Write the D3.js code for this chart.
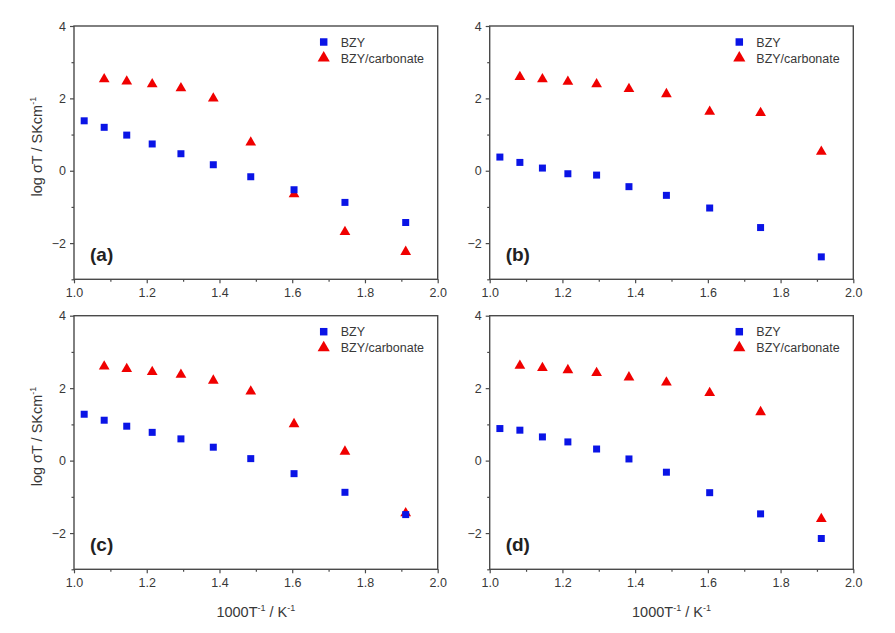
<!DOCTYPE html>
<html>
<head>
<meta charset="utf-8">
<script src="https://cdn.jsdelivr.net/npm/d3@7"></script>
<style>
  html, body { margin: 0; padding: 0; background: #fff; }
  svg { display: block; }
  text { font-family: Arial, "Liberation Sans", sans-serif; }
</style>
</head>
<body>
<svg id="chart" width="895" height="633"></svg>
<script>
// ---- data ----
const xBZY  = [1.028, 1.083, 1.145, 1.215, 1.294, 1.383, 1.486, 1.605, 1.745, 1.912];
const xCarb = [1.083, 1.145, 1.215, 1.294, 1.383, 1.486, 1.605, 1.745, 1.912];

const bzyA  = [1.38, 1.20, 0.985, 0.74, 0.47, 0.166, -0.166, -0.525, -0.875, -1.43];
const carbA = [2.53, 2.47, 2.39, 2.28, 2.00, 0.78, -0.645, -1.69, -2.24];
const bzyB  = [0.378, 0.23, 0.074, -0.083, -0.12, -0.44, -0.68, -1.03, -1.57, -2.38];
const carbB = [2.59, 2.53, 2.46, 2.39, 2.26, 2.12, 1.63, 1.60, 0.525];
const bzyC  = [1.28, 1.115, 0.95, 0.78, 0.60, 0.37, 0.055, -0.36, -0.875, -1.49];
const carbC = [2.60, 2.53, 2.45, 2.37, 2.21, 1.91, 1.01, 0.25, -1.45];
const bzyD  = [0.885, 0.84, 0.654, 0.516, 0.32, 0.046, -0.32, -0.885, -1.47, -2.15];
const carbD = [2.62, 2.56, 2.50, 2.42, 2.30, 2.16, 1.87, 1.34, -1.61];

const panelLabels = ["(a)", "(b)", "(c)", "(d)"];
const seriesNames = ["BZY", "BZY/carbonate"];
const xTicks = [1.0, 1.2, 1.4, 1.6, 1.8, 2.0];
const xMinorTicks = [1.1, 1.3, 1.5, 1.7, 1.9];
const yTicks = [-2, 0, 2, 4];
const yMinorTicks = [-3, -1, 1, 3];

// ---- layout ----
const panels = [
  {label: panelLabels[0], bzy: bzyA, carb: carbA, left: 74,    right: 437.7, top: 26,    bottom: 279.3, yTitle: true,  xTitle: false},
  {label: panelLabels[1], bzy: bzyB, carb: carbB, left: 489.7, right: 853.3, top: 26,    bottom: 279.3, yTitle: false, xTitle: false},
  {label: panelLabels[2], bzy: bzyC, carb: carbC, left: 74,    right: 437.7, top: 315.7, bottom: 569.3, yTitle: true,  xTitle: true},
  {label: panelLabels[3], bzy: bzyD, carb: carbD, left: 489.7, right: 853.3, top: 315.7, bottom: 569.3, yTitle: false, xTitle: true}
];

const blue = "#0a14e6";
const red = "#f00000";
const axisColor = "#4a4a4a";
const textColor = "#383838";

const svg = d3.select("#chart");
svg.append("rect").attr("width", 895).attr("height", 633).attr("fill", "#fff");

const squareSym = d3.symbol().type(d3.symbolSquare).size(49);
const triSym = d3.symbol().type(d3.symbolTriangle).size(50);
const squareLeg = d3.symbol().type(d3.symbolSquare).size(56);
const triLeg = d3.symbol().type(d3.symbolTriangle).size(64);

panels.forEach(p => {
  const x = d3.scaleLinear().domain([1.0, 2.0]).range([p.left, p.right]);
  const y = d3.scaleLinear().domain([-3, 4]).range([p.bottom, p.top]);
  const g = svg.append("g");

  // frame
  g.append("rect")
    .attr("x", p.left).attr("y", p.top)
    .attr("width", p.right - p.left).attr("height", p.bottom - p.top)
    .attr("fill", "none").attr("stroke", axisColor).attr("stroke-width", 1.4);

  // x axis
  const xa = g.append("g").attr("transform", `translate(0,${p.bottom})`)
    .call(d3.axisBottom(x).tickValues(xTicks).tickFormat(d3.format(".1f")).tickSize(4).tickPadding(5));
  const xm = g.append("g").attr("transform", `translate(0,${p.bottom})`)
    .call(d3.axisBottom(x).tickValues(xMinorTicks).tickFormat("").tickSize(2.5));
  // y axis
  const ya = g.append("g").attr("transform", `translate(${p.left},0)`)
    .call(d3.axisLeft(y).tickValues(yTicks).tickFormat(d3.format("d")).tickSize(4).tickPadding(4));
  const ym = g.append("g").attr("transform", `translate(${p.left},0)`)
    .call(d3.axisLeft(y).tickValues(yMinorTicks).tickFormat("").tickSize(2.5));

  [xa, xm, ya, ym].forEach(a => {
    a.select(".domain").remove();
    a.selectAll(".tick line").attr("stroke", axisColor).attr("stroke-width", 1.2);
    a.selectAll(".tick text").attr("fill", textColor).attr("font-size", 12.5)
      .attr("font-family", "Arial, 'Liberation Sans', sans-serif");
  });

  // data: triangles then squares
  g.append("g").selectAll("path").data(p.carb).join("path")
    .attr("d", triSym)
    .attr("transform", (d, i) => `translate(${x(xCarb[i])},${y(d)})`)
    .attr("fill", red);
  g.append("g").selectAll("path").data(p.bzy).join("path")
    .attr("d", squareSym)
    .attr("transform", (d, i) => `translate(${x(xBZY[i])},${y(d)})`)
    .attr("fill", blue);

  // legend
  const lx = p.right - 114, ly = p.top + 16;
  g.append("path").attr("d", squareLeg).attr("transform", `translate(${lx},${ly})`).attr("fill", blue);
  g.append("path").attr("d", triLeg).attr("transform", `translate(${lx},${ly + 16})`).attr("fill", red);
  g.append("text").attr("x", lx + 17).attr("y", ly + 4.5).attr("font-size", 12.5).attr("fill", textColor).text(seriesNames[0]);
  g.append("text").attr("x", lx + 17).attr("y", ly + 20.5).attr("font-size", 12.5).attr("fill", textColor).text(seriesNames[1]);

  // panel label
  g.append("text").attr("x", p.left + 16).attr("y", p.bottom - 18)
    .attr("font-size", 19).attr("font-weight", "bold").attr("fill", "#222").text(p.label);

  // y title
  if (p.yTitle) {
    const cy = (p.top + p.bottom) / 2 - 6;
    const t = g.append("text")
      .attr("transform", `translate(${p.left - 32},${cy}) rotate(-90)`)
      .attr("text-anchor", "middle").attr("font-size", 14.5).attr("fill", textColor);
    t.append("tspan").text("log \u03C3T / SKcm");
    t.append("tspan").attr("font-size", 9).attr("dy", -6).text("-1");
  }
  // x title
  if (p.xTitle) {
    const t = g.append("text")
      .attr("x", (p.left + p.right) / 2).attr("y", p.bottom + 48)
      .attr("text-anchor", "middle").attr("font-size", 14.5).attr("fill", textColor);
    t.append("tspan").text("1000T");
    t.append("tspan").attr("font-size", 9).attr("dy", -6).text("-1");
    t.append("tspan").attr("dy", 6).text(" / K");
    t.append("tspan").attr("font-size", 9).attr("dy", -6).text("-1");
  }
});
</script>
</body>
</html>
